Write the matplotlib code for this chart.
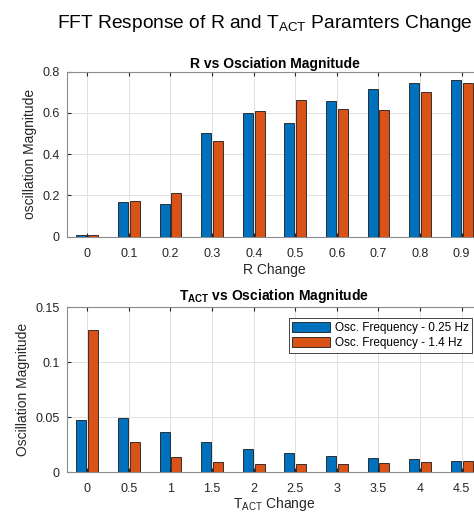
import matplotlib.pyplot as plt
import numpy as np

plt.rcParams['font.family'] = ['Liberation Sans', 'DejaVu Sans']
plt.rcParams['mathtext.fontset'] = 'custom'
plt.rcParams['mathtext.rm'] = 'Liberation Sans'
plt.rcParams['mathtext.bf'] = 'Liberation Sans:bold'

# data
r_labels = ['0', '0.1', '0.2', '0.3', '0.4', '0.5', '0.6', '0.7', '0.8', '0.9']
r_slow = [0.010, 0.166, 0.157, 0.503, 0.598, 0.553, 0.656, 0.714, 0.743, 0.758]
r_fast = [0.010, 0.171, 0.210, 0.464, 0.611, 0.661, 0.619, 0.613, 0.700, 0.743]

t_labels = ['0', '0.5', '1', '1.5', '2', '2.5', '3', '3.5', '4', '4.5']
t_slow = [0.0475, 0.0490, 0.0370, 0.0280, 0.0212, 0.0174, 0.0150, 0.0132, 0.0117, 0.0104]
t_fast = [0.1290, 0.0280, 0.0140, 0.0096, 0.0075, 0.0073, 0.0078, 0.0084, 0.0090, 0.0104]

series_names = ['Osc. Frequency - 0.25 Hz', 'Osc. Frequency - 1.4 Hz']
blue = '#0072BD'
orange = '#D95319'
dark = '#262626'

fig = plt.figure(figsize=(4.74, 5.13), dpi=100)
fig.text(0.558, 0.955, r'FFT Response of R and T$_{\mathrm{ACT}}$ Paramters Change',
         ha='center', va='center', fontsize=13.8, color='black')

ax1 = fig.add_axes([0.1403, 0.5386, 0.8776, 0.3216])
ax2 = fig.add_axes([0.1403, 0.0793, 0.8776, 0.3216])

def grouped(ax, labels, a, b):
    x = np.arange(len(labels))
    ax.bar(x - 0.14, a, width=0.24, color=blue, edgecolor='#1a1a1a', linewidth=0.6,
           label=series_names[0], zorder=3)
    ax.bar(x + 0.14, b, width=0.24, color=orange, edgecolor='#1a1a1a', linewidth=0.6,
           label=series_names[1], zorder=3)
    ax.set_xticks(x)
    ax.set_xticklabels(labels)
    ax.set_xlim(-0.5, len(labels) - 0.5)
    ax.grid(True, color='#e0e0e0', linewidth=0.7, zorder=0)
    ax.set_axisbelow(True)
    ax.tick_params(direction='in', top=True, right=True, labelsize=9, colors=dark,
                   length=3)
    ax.tick_params(axis='x', pad=8)
    ax.tick_params(axis='y', pad=5)
    for s in ax.spines.values():
        s.set_color('#8c8c8c')
        s.set_linewidth(0.8)

grouped(ax1, r_labels, r_slow, r_fast)
ax1.set_ylim(0, 0.8)
ax1.set_yticks([0, 0.2, 0.4, 0.6, 0.8])
ax1.set_yticklabels(['0', '0.2', '0.4', '0.6', '0.8'])
ax1.set_title('R vs Osciation Magnitude', fontsize=10, fontweight='bold', pad=3)
ax1.set_xlabel('R Change', fontsize=10, color=dark, labelpad=2)
ax1.set_ylabel('oscillation Magnitude', fontsize=10, color=dark, labelpad=4)

grouped(ax2, t_labels, t_slow, t_fast)
ax2.set_ylim(0, 0.15)
ax2.set_yticks([0, 0.05, 0.1, 0.15])
ax2.set_yticklabels(['0', '0.05', '0.1', '0.15'])
ax2.set_title(r'$\mathbf{T_{ACT}}$ vs Osciation Magnitude', fontsize=10,
              fontweight='bold', pad=5)
ax2.set_xlabel(r'T$_{\mathrm{ACT}}$ Change', fontsize=10, color=dark, labelpad=0)
ax2.set_ylabel('Oscillation Magnitude', fontsize=10, color=dark, labelpad=4)

leg = ax2.legend(loc='upper right', bbox_to_anchor=(0.975, 0.935), borderaxespad=0,
                 fontsize=8.5, fancybox=False, framealpha=1, edgecolor=dark,
                 handlelength=3.2, handleheight=1.0, borderpad=0.3,
                 labelspacing=0.25, handletextpad=0.4)
leg.get_frame().set_linewidth(0.6)

fig.savefig('out.png', dpi=100)
